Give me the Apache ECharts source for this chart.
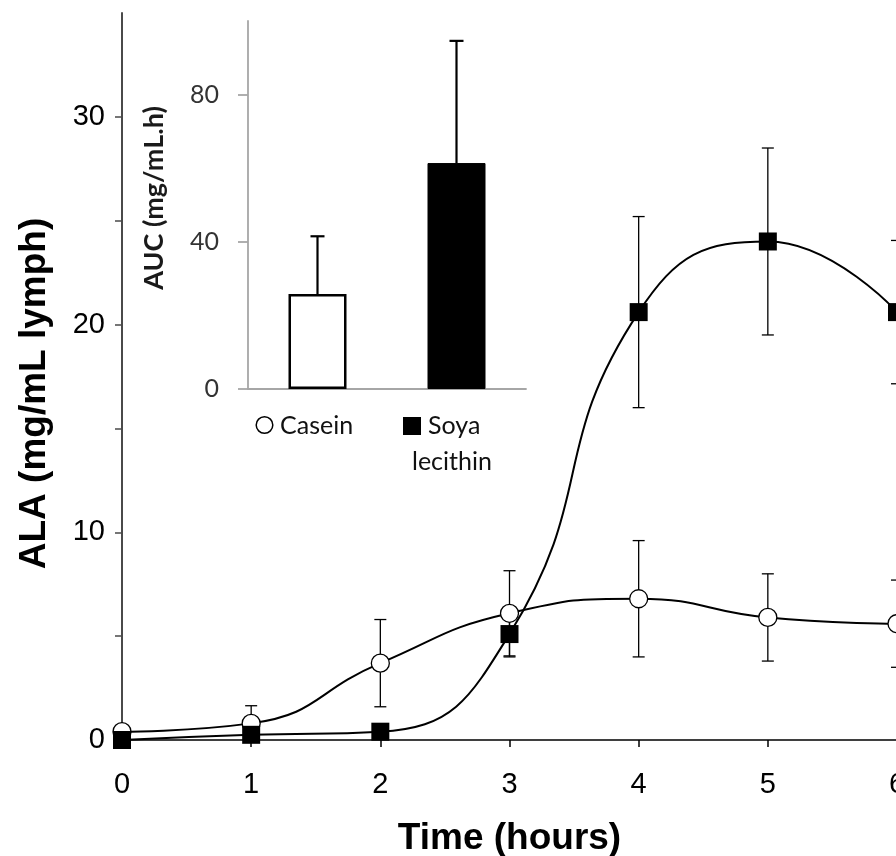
<!DOCTYPE html>
<html>
<head>
<meta charset="utf-8">
<script src="https://cdn.jsdelivr.net/npm/echarts@6/dist/echarts.min.js"></script>
<style>
  html, body { margin: 0; padding: 0; background: #fff; }
  #chart { width: 896px; height: 856px; }
</style>
</head>
<body>
<div id="chart"></div>
<script>
// time course of lymph ALA
const hours = [0, 1, 2, 3, 4, 5, 6];
const caseinMean = [0.4, 0.8, 3.7, 6.1, 6.8, 5.9, 5.6];
const caseinSd = [0, 0.85, 2.1, 2.05, 2.8, 2.1, 2.1];
const soyaMean = [0.0, 0.25, 0.4, 5.1, 20.6, 24.0, 20.6];
const soyaSd = [0, 0.3, 0, 1.1, 4.6, 4.5, 3.45];

// inset AUC bars
const aucGroups = ['Casein', 'Soya lecithin'];
const aucMean = [25.8, 61.4];
const aucSd = [15.7, 33.2];

const mainTicks = [0, 5, 10, 15, 20, 25, 30];
const mainLabels = [0, 10, 20, 30];
const insetTicks = [0, 40, 80];

const arial = 'Liberation Sans';
const calibri = 'Lato';

function pairs(xs, ys) {
  return xs.map((x, i) => [x, ys[i]]);
}

function errRows(xs, mean, sd) {
  return xs.map((x, i) => [x, mean[i] - sd[i], mean[i] + sd[i]]);
}

// vertical error bar, caps on both ends (or only top)
function errorBar(cap, width, topOnly) {
  return function (params, api) {
    const x = api.value(0);
    const lo = api.coord([x, api.value(1)]);
    const hi = api.coord([x, api.value(2)]);
    const st = { stroke: '#000', lineWidth: width };
    const kids = [
      { type: 'line', shape: { x1: lo[0], y1: lo[1], x2: hi[0], y2: hi[1] }, style: st },
      { type: 'line', shape: { x1: hi[0] - cap / 2, y1: hi[1], x2: hi[0] + cap / 2, y2: hi[1] }, style: st }
    ];
    if (!topOnly) {
      kids.push({ type: 'line', shape: { x1: lo[0] - cap / 2, y1: lo[1], x2: lo[0] + cap / 2, y2: lo[1] }, style: st });
    }
    return { type: 'group', children: kids };
  };
}

const option = {
  backgroundColor: '#fff',
  animation: false,
  grid: [
    { left: 122, top: 13, width: 775, height: 727, outerBoundsMode: 'none' },
    { left: 248, top: 21, width: 278, height: 368, outerBoundsMode: 'none' }
  ],
  xAxis: [
    {
      type: 'value', gridIndex: 0, min: 0, max: 6, interval: 1,
      name: 'Time (hours)', nameLocation: 'middle', nameGap: 80,
      nameTextStyle: { fontFamily: arial, fontSize: 37, fontWeight: 'bold', color: '#000' },
      axisLine: { lineStyle: { color: '#000', width: 1.5 } },
      axisTick: { length: 7, lineStyle: { color: '#000', width: 1.5 } },
      axisLabel: { fontFamily: arial, fontSize: 29, color: '#000', margin: 30 },
      splitLine: { show: false }
    },
    {
      type: 'category', gridIndex: 1, data: aucGroups, boundaryGap: true,
      axisLine: { lineStyle: { color: '#a6a6a6', width: 1.8 } },
      axisTick: { length: 8, lineStyle: { color: '#a6a6a6', width: 1.8 } },
      axisLabel: { show: false }
    }
  ],
  yAxis: [
    {
      type: 'value', gridIndex: 0, min: 0, max: 35,
      name: 'ALA (mg/mL lymph)', nameLocation: 'middle', nameGap: 69,
      nameTextStyle: { fontFamily: arial, fontSize: 37, fontWeight: 'bold', color: '#000', padding: [0, 34, 0, 0] },
      axisLine: { show: true, lineStyle: { color: '#4a4a4a', width: 2 } },
      axisTick: { show: true, length: 7, customValues: mainTicks, lineStyle: { color: '#4a4a4a', width: 1.5 } },
      axisLabel: { customValues: mainLabels, fontFamily: arial, fontSize: 29, color: '#000', margin: 17 },
      splitLine: { show: false }
    },
    {
      type: 'value', gridIndex: 1, min: 0, max: 100,
      name: 'AUC (mg/mL.h)', nameLocation: 'middle', nameGap: 80,
      nameTextStyle: { fontFamily: calibri, fontSize: 27, fontWeight: 'bold', color: '#1a1a1a', padding: [0, 0, 0, 14] },
      axisLine: { show: true, lineStyle: { color: '#a6a6a6', width: 1.8 } },
      axisTick: { show: true, length: 10, customValues: insetTicks, lineStyle: { color: '#a6a6a6', width: 1.8 } },
      axisLabel: { customValues: insetTicks, fontFamily: calibri, fontSize: 25, color: '#333', margin: 29 },
      splitLine: { show: false }
    }
  ],
  series: [
    {
      name: 'casein err', type: 'custom', xAxisIndex: 0, yAxisIndex: 0, z: 1,
      renderItem: errorBar(12, 1.3, false),
      encode: { x: 0, y: [1, 2] },
      data: errRows(hours, caseinMean, caseinSd).filter((r, i) => caseinSd[i] > 0)
    },
    {
      name: 'soya err', type: 'custom', xAxisIndex: 0, yAxisIndex: 0, z: 1,
      renderItem: errorBar(12, 1.3, false),
      encode: { x: 0, y: [1, 2] },
      data: errRows(hours, soyaMean, soyaSd).filter((r, i) => soyaSd[i] > 0)
    },
    {
      name: 'Casein', type: 'line', xAxisIndex: 0, yAxisIndex: 0, z: 3,
      smooth: 0.5,
      symbol: 'circle', symbolSize: 18,
      lineStyle: { color: '#000', width: 2 },
      itemStyle: { color: '#fff', borderColor: '#000', borderWidth: 1.3 },
      data: pairs(hours, caseinMean)
    },
    {
      name: 'Soya lecithin', type: 'line', xAxisIndex: 0, yAxisIndex: 0, z: 4,
      smooth: 0.5,
      symbol: 'rect', symbolSize: 18,
      lineStyle: { color: '#000', width: 2 },
      itemStyle: { color: '#000' },
      data: pairs(hours, soyaMean)
    },
    {
      name: 'AUC', type: 'bar', xAxisIndex: 1, yAxisIndex: 1, z: 5,
      barWidth: 58,
      data: [
        { value: aucMean[0], itemStyle: { color: '#fff', borderColor: '#000', borderWidth: 2.5 } },
        { value: aucMean[1], itemStyle: { color: '#000', borderColor: '#000', borderWidth: 1 } }
      ]
    },
    {
      name: 'AUC err', type: 'custom', xAxisIndex: 1, yAxisIndex: 1, z: 4,
      renderItem: errorBar(14, 2.2, true),
      encode: { x: 0, y: [1, 2] },
      data: aucMean.map((m, i) => [i, m, m + aucSd[i]])
    }
  ],
  graphic: [
    { type: 'circle', shape: { cx: 264.5, cy: 425, r: 8.3 }, style: { fill: '#fff', stroke: '#000', lineWidth: 1.5 } },
    { type: 'text', x: 280, y: 426, style: { text: aucGroups[0], font: '25px Lato', fill: '#111', verticalAlign: 'middle' } },
    { type: 'rect', shape: { x: 403, y: 417, width: 18, height: 18 }, style: { fill: '#000' } },
    { type: 'text', x: 428, y: 426, style: { text: 'Soya', font: '25px Lato', fill: '#111', verticalAlign: 'middle' } },
    { type: 'text', x: 412, y: 462, style: { text: 'lecithin', font: '25px Lato', fill: '#111', verticalAlign: 'middle' } }
  ]
};

const myChart = echarts.init(document.getElementById('chart'));
myChart.setOption(option);
</script>
</body>
</html>
